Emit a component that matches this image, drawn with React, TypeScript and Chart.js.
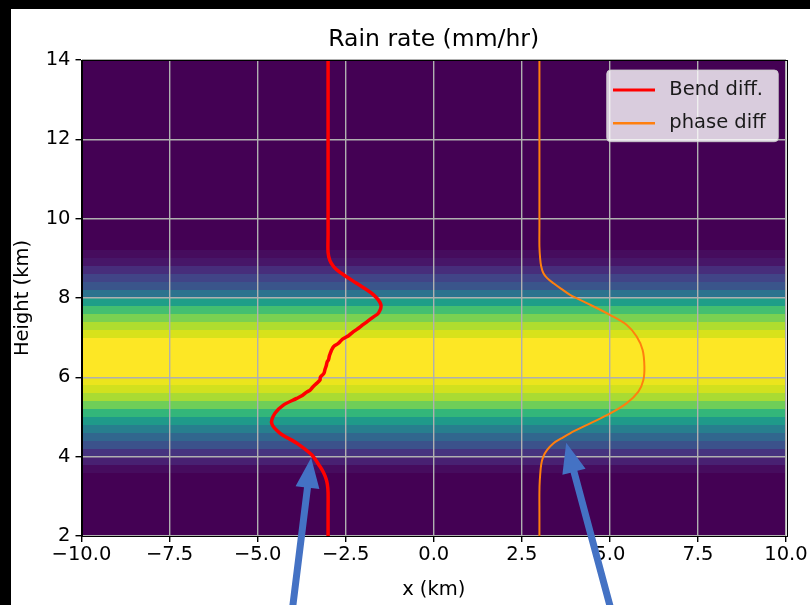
import React, { useEffect, useRef } from 'react';
import { Chart, registerables } from 'chart.js';

Chart.register(...registerables);

// ---- data ----
const chartTitle = 'Rain rate (mm/hr)';
const xTickStep = 2.5;
const yTickStep = 2;

// Rain-rate cells (lower edge of each 0.2 km cell, in km) and values (mm/hr)
const rainCellBottoms = [3.6, 3.8, 4.0, 4.2, 4.4, 4.6, 4.8, 5.0, 5.2, 5.4, 5.6, 5.8, 6.0, 6.2, 6.4, 6.6, 6.8, 7.0, 7.2, 7.4, 7.6, 7.8, 8.0, 8.2, 8.4, 8.6, 8.8, 9.0];
const rainRates = [0.3, 0.9, 1.6, 2.5, 3.3, 4.3, 5.4, 6.6, 7.8, 8.7, 9.3, 9.7, 10, 10, 10, 10, 10, 9.4, 8.8, 8.0, 7.0, 5.6, 3.8, 2.6, 2.0, 1.4, 0.6, 0.3];
const rainCellSize = 0.2;
const rainMax = 10;

// Bend diff. (x offset in km vs height in km)
const bendHeights = [2.0, 2.6, 3.1, 3.3, 3.45, 3.6, 3.75, 4.04, 4.34, 4.59, 4.84, 5.09, 5.30, 5.47, 5.55, 5.62, 5.68, 5.75, 5.82, 5.93, 6.0, 6.1, 6.19, 6.3, 6.38, 6.44, 6.55, 6.62, 6.69, 6.78, 6.85, 6.90, 6.97, 7.05, 7.15, 7.25, 7.32, 7.40, 7.52, 7.62, 7.83, 8.08, 8.37, 8.55, 8.71, 8.8, 8.95, 9.15, 9.6, 14.0];
const bendOffsets = [-3.0, -3.0, -3.0, -3.02, -3.06, -3.13, -3.23, -3.46, -3.89, -4.36, -4.60, -4.51, -4.27, -3.89, -3.72, -3.62, -3.51, -3.44, -3.36, -3.23, -3.22, -3.12, -3.09, -3.05, -3.03, -2.99, -2.96, -2.93, -2.90, -2.84, -2.72, -2.66, -2.58, -2.42, -2.28, -2.12, -2.02, -1.90, -1.72, -1.57, -1.50, -1.71, -2.19, -2.50, -2.75, -2.85, -2.95, -3.0, -3.0, -3.0];

// phase diff
const phaseHeights = [2.0, 2.6, 3.1, 3.4, 3.8, 4.0, 4.17, 4.34, 4.46, 4.59, 4.84, 5.09, 5.35, 5.64, 5.93, 6.27, 6.69, 7.03, 7.32, 7.57, 7.83, 8.08, 8.23, 8.37, 8.5, 8.63, 8.8, 9.0, 9.3, 9.8, 14.0];
const phaseOffsets = [3.0, 3.0, 3.0, 3.01, 3.05, 3.11, 3.22, 3.40, 3.62, 3.87, 4.44, 5.01, 5.48, 5.81, 5.95, 5.98, 5.93, 5.76, 5.48, 5.01, 4.44, 3.87, 3.62, 3.40, 3.22, 3.11, 3.05, 3.02, 3.0, 3.0, 3.0];

// Annotation arrows (data coordinates: x km, height km)
const arrowTails = [{ x: -4.02, y: 0.1 }, { x: 5.06, y: 0.05 }];
const arrowTips = [{ x: -3.48, y: 3.97 }, { x: 3.76, y: 4.35 }];

// viridis colormap stops
const viridisStops = ['#440154', '#471365', '#482475', '#472f7d', '#414487', '#3b528b', '#355f8d', '#2f6c8e', '#2a788e', '#25848e', '#21918c', '#1e9c89', '#22a884', '#2fb47c', '#44bf70', '#5ec962', '#7ad151', '#9bd93c', '#bddf26', '#dfe318', '#fde725'];

const FONT = "'DejaVu Sans', 'Liberation Sans', sans-serif";
const LABEL_SIZE = 19.5;

function hexToRgb(h: string) {
  return [parseInt(h.slice(1, 3), 16), parseInt(h.slice(3, 5), 16), parseInt(h.slice(5, 7), 16)];
}

function viridis(t: number) {
  const v = Math.max(0, Math.min(1, t)) * (viridisStops.length - 1);
  const i = Math.min(Math.floor(v), viridisStops.length - 2);
  const f = v - i;
  const a = hexToRgb(viridisStops[i]);
  const b = hexToRgb(viridisStops[i + 1]);
  const c = a.map((av, k) => Math.round(av + (b[k] - av) * f));
  return `rgb(${c[0]},${c[1]},${c[2]})`;
}

const heatmapPlugin = {
  id: 'heatmap',
  beforeDraw(chart: any) {
    const { ctx, chartArea, scales } = chart;
    const ys = scales.y;
    ctx.save();
    ctx.fillStyle = viridis(0);
    ctx.fillRect(chartArea.left, chartArea.top, chartArea.right - chartArea.left, chartArea.bottom - chartArea.top);
    rainCellBottoms.forEach((h, i) => {
      const yTop = Math.round(ys.getPixelForValue(h + rainCellSize));
      const yBot = Math.round(ys.getPixelForValue(h));
      ctx.fillStyle = viridis(rainRates[i] / rainMax);
      ctx.fillRect(chartArea.left, yTop, chartArea.right - chartArea.left, yBot - yTop);
    });
    // title centred over the axes
    ctx.fillStyle = '#000';
    ctx.font = `23.5px ${FONT}`;
    ctx.textAlign = 'center';
    ctx.textBaseline = 'middle';
    ctx.fillText(chartTitle, (chartArea.left + chartArea.right) / 2, chartArea.top - 20);
    ctx.restore();
  },
};

function drawArrow(ctx: CanvasRenderingContext2D, x1: number, y1: number, x2: number, y2: number) {
  const dx = x2 - x1;
  const dy = y2 - y1;
  const len = Math.hypot(dx, dy);
  const ux = dx / len;
  const uy = dy / len;
  const px = -uy;
  const py = ux;
  const headLen = 30;
  const headHalf = 12;
  const shaftHalf = 3.5;
  const bx = x2 - ux * headLen;
  const by = y2 - uy * headLen;
  ctx.beginPath();
  ctx.moveTo(x1 + px * shaftHalf, y1 + py * shaftHalf);
  ctx.lineTo(bx + px * shaftHalf, by + py * shaftHalf);
  ctx.lineTo(bx + px * headHalf, by + py * headHalf);
  ctx.lineTo(x2, y2);
  ctx.lineTo(bx - px * headHalf, by - py * headHalf);
  ctx.lineTo(bx - px * shaftHalf, by - py * shaftHalf);
  ctx.lineTo(x1 - px * shaftHalf, y1 - py * shaftHalf);
  ctx.closePath();
  ctx.fill();
}

const overlayPlugin = {
  id: 'overlay',
  afterDatasetsDraw(chart: any) {
    const { ctx, chartArea } = chart;
    ctx.save();
    // frame (top & right spines)
    ctx.strokeStyle = '#000';
    ctx.lineWidth = 1;
    ctx.strokeRect(Math.round(chartArea.left) + 0.5, Math.round(chartArea.top) + 0.5, Math.round(chartArea.right - chartArea.left), Math.round(chartArea.bottom - chartArea.top));

    // legend
    const boxW = 171.6;
    const boxH = 71.7;
    const bx = chartArea.right - 7.7 - boxW;
    const by = chartArea.top + 10;
    ctx.beginPath();
    const r = 4;
    ctx.moveTo(bx + r, by);
    ctx.lineTo(bx + boxW - r, by);
    ctx.quadraticCurveTo(bx + boxW, by, bx + boxW, by + r);
    ctx.lineTo(bx + boxW, by + boxH - r);
    ctx.quadraticCurveTo(bx + boxW, by + boxH, bx + boxW - r, by + boxH);
    ctx.lineTo(bx + r, by + boxH);
    ctx.quadraticCurveTo(bx, by + boxH, bx, by + boxH - r);
    ctx.lineTo(bx, by + r);
    ctx.quadraticCurveTo(bx, by, bx + r, by);
    ctx.closePath();
    ctx.fillStyle = 'rgba(255,255,255,0.8)';
    ctx.fill();
    ctx.strokeStyle = 'rgba(204,204,204,0.8)';
    ctx.stroke();

    chart.data.datasets.forEach((ds: any, i: number) => {
      const cy = by + 20 + i * 33.3;
      ctx.strokeStyle = ds.borderColor;
      ctx.lineWidth = i === 0 ? 3 : 2.5;
      ctx.beginPath();
      ctx.moveTo(bx + 6.3, cy);
      ctx.lineTo(bx + 48.3, cy);
      ctx.stroke();
      ctx.fillStyle = '#1a1a1a';
      ctx.font = `${LABEL_SIZE}px ${FONT}`;
      ctx.textBaseline = 'middle';
      ctx.textAlign = 'left';
      ctx.fillText(ds.label, bx + 62.6, cy);
    });
    ctx.restore();
  },
  afterDraw(chart: any) {
    const { ctx, scales } = chart;
    ctx.save();
    ctx.fillStyle = '#4472c4';
    arrowTails.forEach((t, i) => {
      const tip = arrowTips[i];
      drawArrow(
        ctx,
        scales.x.getPixelForValue(t.x),
        scales.y.getPixelForValue(t.y),
        scales.x.getPixelForValue(tip.x),
        scales.y.getPixelForValue(tip.y)
      );
    });
    ctx.restore();
  },
};

export default function App() {
  const ref = useRef<HTMLCanvasElement>(null);

  useEffect(() => {
    const body = document.body;
    body.style.margin = '9px 0 0 11px';
    body.style.background = '#000';
    body.style.overflow = 'hidden';

    const canvas = ref.current!;
    const tickFont = { family: FONT, size: LABEL_SIZE };
    const chart = new Chart(canvas, {
      type: 'scatter',
      data: {
        datasets: [
          {
            label: 'Bend diff.',
            data: bendHeights.map((h, i) => ({ x: bendOffsets[i], y: h })),
            showLine: true,
            borderColor: '#ff0000',
            backgroundColor: '#ff0000',
            borderWidth: 3.5,
            pointRadius: 0,
            tension: 0.3,
          },
          {
            label: 'phase diff',
            data: phaseHeights.map((h, i) => ({ x: phaseOffsets[i], y: h })),
            showLine: true,
            borderColor: '#ff7f0e',
            backgroundColor: '#ff7f0e',
            borderWidth: 2,
            pointRadius: 0,
            tension: 0.3,
          },
        ],
      },
      options: {
        responsive: false,
        animation: false,
        devicePixelRatio: 1,
        layout: { padding: { left: 0, right: 24, top: 51, bottom: 0 } },
        plugins: {
          legend: { display: false },
          tooltip: { enabled: false },
          title: { display: false },
        },
        scales: {
          x: {
            type: 'linear',
            min: -10,
            max: 10,
            afterFit: (s: any) => {
              s.height = 69;
            },
            ticks: {
              stepSize: xTickStep,
              color: '#000',
              font: tickFont,
              padding: 1.5,
              maxRotation: 0,
              autoSkip: false,
              callback: (v: any) => Number(v).toFixed(1).replace('-', '\u2212'),
            },
            grid: { color: '#b0b0b0', tickColor: '#000', tickLength: 6, lineWidth: 1.4 },
            border: { display: true, color: '#000', width: 1 },
            title: { display: true, text: 'x (km)', color: '#000', font: tickFont, padding: { top: 0, bottom: 3.3 } },
          },
          y: {
            type: 'linear',
            min: 2,
            max: 14,
            afterFit: (s: any) => {
              s.width = 70.5;
            },
            ticks: {
              stepSize: yTickStep,
              color: '#000',
              font: tickFont,
              padding: 5,
              autoSkip: false,
              callback: (v: any) => String(v),
            },
            grid: { color: '#b0b0b0', tickColor: '#000', tickLength: 6, lineWidth: 1.4 },
            border: { display: true, color: '#000', width: 1 },
            title: { display: true, text: 'Height (km)', color: '#000', font: tickFont, padding: { top: 0, bottom: 0 } },
          },
        },
      },
      plugins: [heatmapPlugin, overlayPlugin],
    } as any);

    return () => chart.destroy();
  }, []);

  return <canvas ref={ref} width={799} height={596} style={{ display: 'block', background: '#fff' }} />;
}
